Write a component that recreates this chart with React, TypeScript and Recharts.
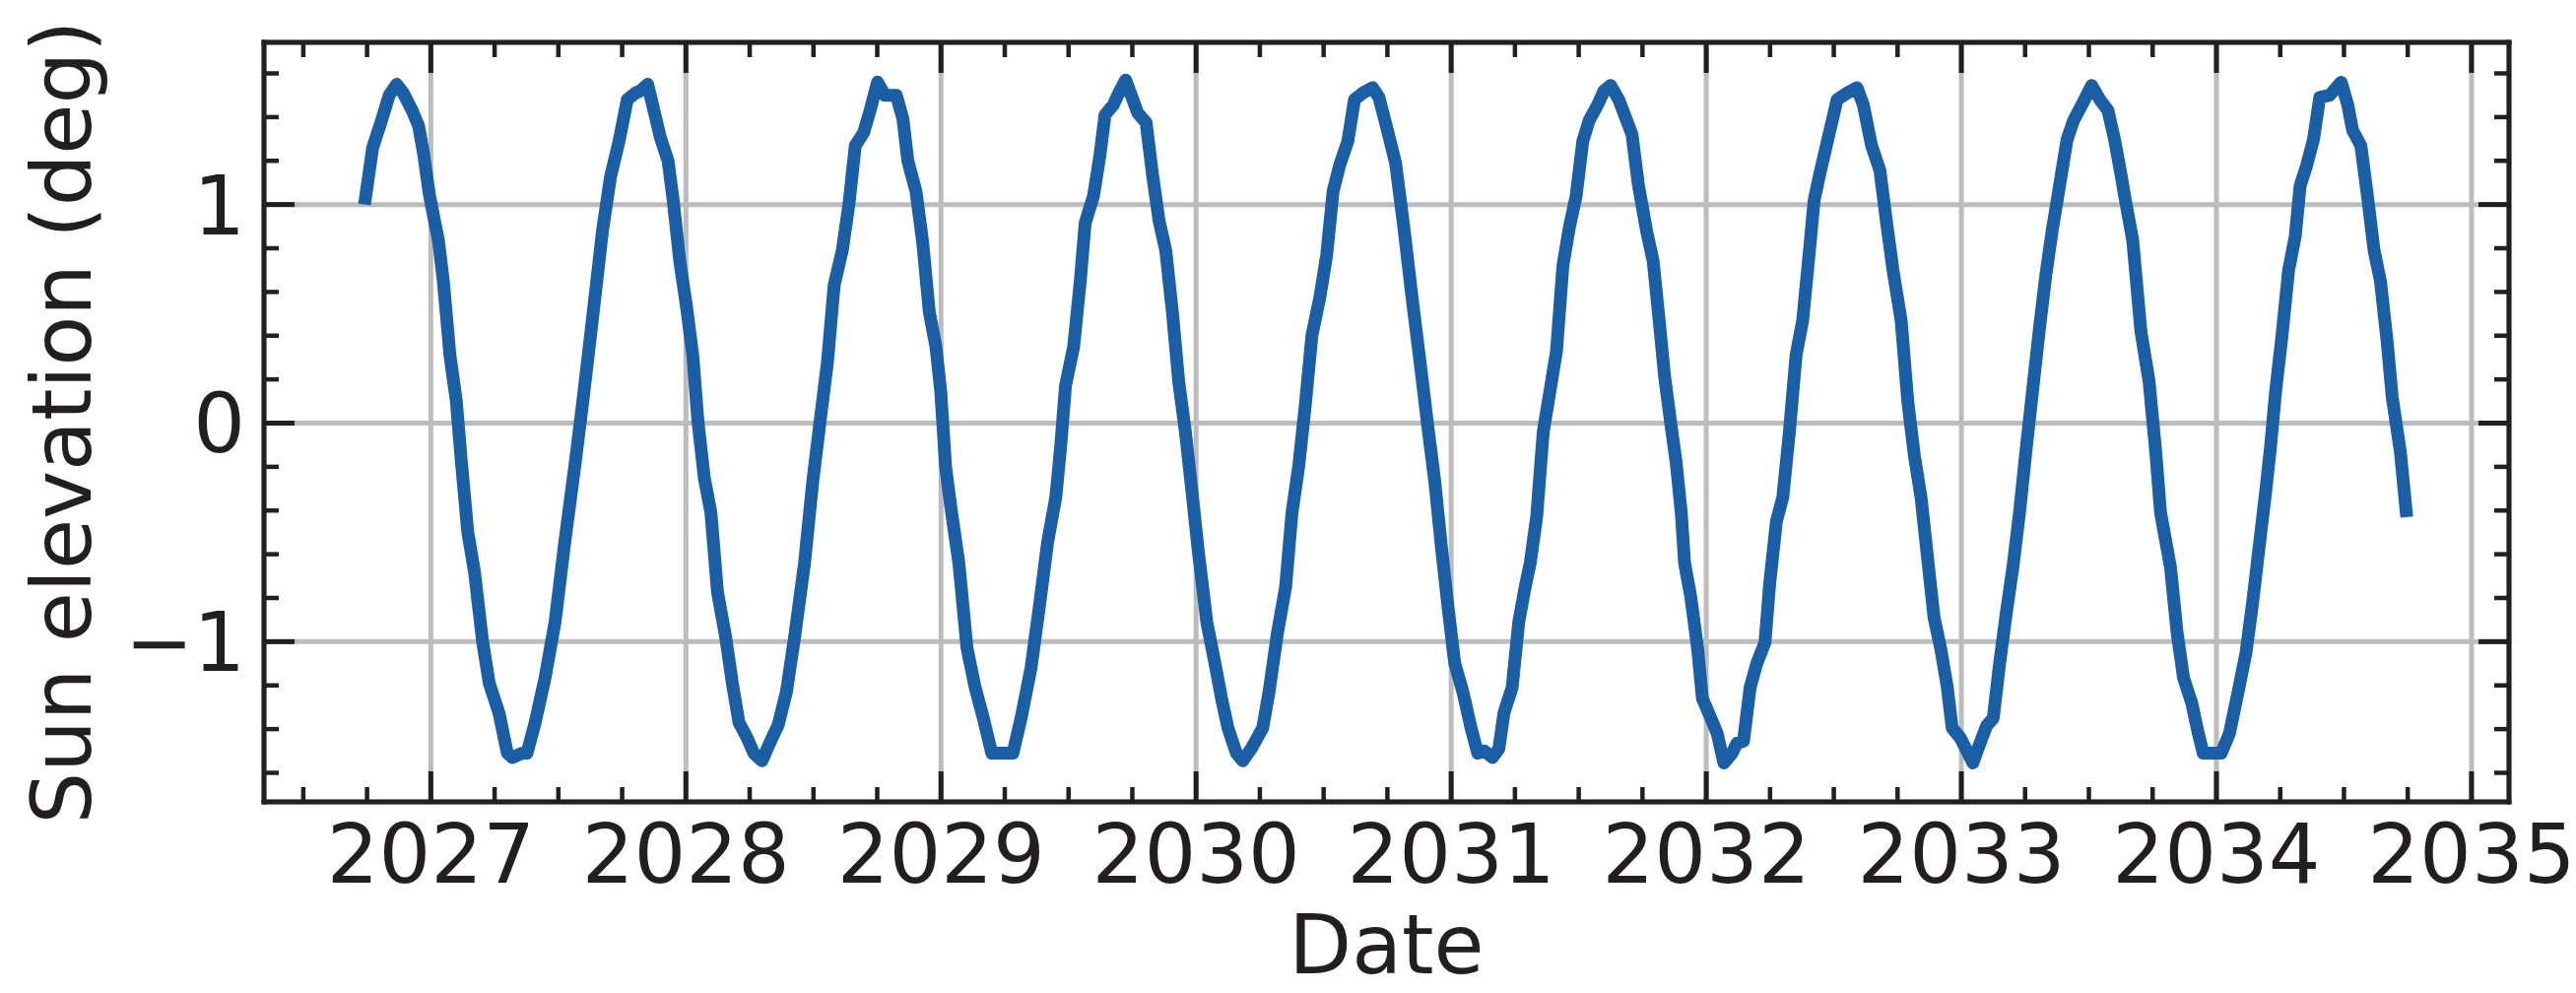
import { LineChart, Line, XAxis, YAxis, CartesianGrid } from "recharts";

// Sun elevation over the mission (decimal years)
const dateYears = [
  2026.74, 2026.772, 2026.804, 2026.837, 2026.866, 2026.892, 2026.927, 2026.952, 2026.972, 2026.995,
  2027.03, 2027.049, 2027.075, 2027.1, 2027.12, 2027.145, 2027.171, 2027.203, 2027.229, 2027.268,
  2027.3, 2027.319, 2027.358, 2027.377, 2027.409, 2027.448, 2027.487, 2027.525, 2027.564, 2027.596,
  2027.635, 2027.673, 2027.705, 2027.738, 2027.77, 2027.802, 2027.821, 2027.85, 2027.879, 2027.899,
  2027.93, 2027.95, 2027.976, 2028.002, 2028.027, 2028.047, 2028.072, 2028.098, 2028.124, 2028.156,
  2028.182, 2028.208, 2028.24, 2028.266, 2028.298, 2028.33, 2028.362, 2028.394, 2028.426, 2028.465,
  2028.497, 2028.523, 2028.555, 2028.581, 2028.613, 2028.639, 2028.664, 2028.697, 2028.722, 2028.751,
  2028.78, 2028.825, 2028.851, 2028.87, 2028.902, 2028.928, 2028.954, 2028.98, 2028.999, 2029.018,
  2029.038, 2029.07, 2029.102, 2029.134, 2029.166, 2029.199, 2029.237, 2029.282, 2029.314, 2029.353,
  2029.385, 2029.418, 2029.45, 2029.469, 2029.488, 2029.52, 2029.546, 2029.565, 2029.598, 2029.623,
  2029.643, 2029.675, 2029.701, 2029.724, 2029.746, 2029.771, 2029.804, 2029.83, 2029.855, 2029.881,
  2029.907, 2029.932, 2029.958, 2029.984, 2030.009, 2030.042, 2030.074, 2030.1, 2030.125, 2030.158,
  2030.183, 2030.216, 2030.261, 2030.286, 2030.319, 2030.351, 2030.376, 2030.402, 2030.428, 2030.454,
  2030.486, 2030.512, 2030.537, 2030.563, 2030.595, 2030.621, 2030.653, 2030.692, 2030.717, 2030.75,
  2030.782, 2030.814, 2030.846, 2030.878, 2030.911, 2030.936, 2030.962, 2030.988, 2031.014, 2031.046,
  2031.078, 2031.104, 2031.13, 2031.162, 2031.187, 2031.207, 2031.239, 2031.265, 2031.29, 2031.31,
  2031.335, 2031.361, 2031.387, 2031.413, 2031.438, 2031.464, 2031.49, 2031.516, 2031.541, 2031.574,
  2031.599, 2031.625, 2031.657, 2031.683, 2031.709, 2031.734, 2031.766, 2031.792, 2031.812, 2031.837,
  2031.863, 2031.882, 2031.902, 2031.915, 2031.94, 2031.966, 2031.985, 2032.018, 2032.043, 2032.069,
  2032.101, 2032.12, 2032.146, 2032.172, 2032.198, 2032.23, 2032.249, 2032.275, 2032.3, 2032.326,
  2032.352, 2032.378, 2032.403, 2032.423, 2032.449, 2032.481, 2032.513, 2032.552, 2032.591, 2032.616,
  2032.648, 2032.681, 2032.706, 2032.732, 2032.764, 2032.79, 2032.816, 2032.842, 2032.867, 2032.893,
  2032.919, 2032.945, 2032.964, 2032.996, 2033.022, 2033.045, 2033.073, 2033.099, 2033.125, 2033.15,
  2033.176, 2033.202, 2033.228, 2033.253, 2033.279, 2033.305, 2033.331, 2033.356, 2033.382, 2033.414,
  2033.44, 2033.472, 2033.511, 2033.543, 2033.575, 2033.601, 2033.627, 2033.64, 2033.672, 2033.704,
  2033.736, 2033.762, 2033.781, 2033.82, 2033.846, 2033.871, 2033.903, 2033.929, 2033.948, 2033.987,
  2034.019, 2034.051, 2034.084, 2034.116, 2034.142, 2034.167, 2034.193, 2034.212, 2034.232, 2034.257,
  2034.283, 2034.309, 2034.328, 2034.354, 2034.38, 2034.405, 2034.444, 2034.489, 2034.515, 2034.534,
  2034.566, 2034.592, 2034.618, 2034.643, 2034.669, 2034.689, 2034.721, 2034.746,
];

const elevationDeg = [
  1.0, 1.26, 1.375, 1.5, 1.55, 1.51, 1.43, 1.36, 1.23, 1.04,
  0.835, 0.65, 0.31, 0.1, -0.18, -0.5, -0.68, -1.0, -1.19, -1.33,
  -1.51, -1.53, -1.51, -1.51, -1.37, -1.165, -0.91, -0.545, -0.2, 0.1,
  0.49, 0.88, 1.13, 1.29, 1.48, 1.51, 1.52, 1.55, 1.41, 1.31,
  1.2, 1.02, 0.74, 0.535, 0.31, 0.01, -0.25, -0.41, -0.775, -0.98,
  -1.19, -1.37, -1.44, -1.51, -1.545, -1.46, -1.38, -1.23, -0.98, -0.64,
  -0.27, -0.02, 0.28, 0.63, 0.79, 1.0, 1.27, 1.33, 1.43, 1.56,
  1.5, 1.5, 1.39, 1.2, 1.06, 0.83, 0.51, 0.35, 0.145, -0.2,
  -0.38, -0.64, -1.03, -1.21, -1.35, -1.51, -1.51, -1.51, -1.35, -1.12,
  -0.845, -0.545, -0.34, -0.11, 0.17, 0.35, 0.65, 0.915, 1.04, 1.225,
  1.41, 1.455, 1.52, 1.57, 1.5, 1.42, 1.375, 1.13, 0.925, 0.79,
  0.51, 0.19, -0.04, -0.315, -0.59, -0.91, -1.1, -1.26, -1.395, -1.51,
  -1.545, -1.49, -1.395, -1.23, -0.96, -0.75, -0.41, -0.2, 0.08, 0.4,
  0.58, 0.77, 1.06, 1.18, 1.29, 1.48, 1.51, 1.535, 1.49, 1.34,
  1.19, 0.9, 0.58, 0.28, -0.04, -0.27, -0.57, -0.845, -1.1, -1.23,
  -1.395, -1.51, -1.5, -1.53, -1.49, -1.325, -1.21, -0.91, -0.75, -0.64,
  -0.43, -0.04, 0.145, 0.33, 0.72, 0.9, 1.04, 1.29, 1.385, 1.455,
  1.52, 1.545, 1.48, 1.4, 1.32, 1.09, 0.88, 0.74, 0.51, 0.21,
  -0.02, -0.18, -0.41, -0.64, -0.8, -1.03, -1.26, -1.35, -1.42, -1.555,
  -1.51, -1.465, -1.455, -1.21, -1.1, -1.005, -0.73, -0.45, -0.34, -0.04,
  0.31, 0.47, 0.77, 1.02, 1.16, 1.32, 1.48, 1.51, 1.535, 1.455,
  1.27, 1.155, 0.925, 0.7, 0.47, 0.1, -0.15, -0.34, -0.61, -0.89,
  -1.03, -1.21, -1.395, -1.44, -1.5, -1.555, -1.465, -1.385, -1.35, -1.1,
  -0.87, -0.66, -0.41, -0.13, 0.145, 0.42, 0.675, 0.88, 1.065, 1.295,
  1.385, 1.455, 1.545, 1.48, 1.43, 1.295, 1.13, 1.04, 0.835, 0.42,
  0.19, -0.13, -0.41, -0.66, -0.96, -1.165, -1.28, -1.42, -1.51, -1.51,
  -1.51, -1.42, -1.235, -1.05, -0.82, -0.57, -0.315, -0.11, 0.145, 0.4,
  0.7, 0.855, 1.085, 1.18, 1.295, 1.49, 1.5, 1.56, 1.455, 1.34,
  1.27, 1.04, 0.79, 0.65, 0.375, 0.12, -0.13, -0.43,
];

const yearTicks = [2027, 2028, 2029, 2030, 2031, 2032, 2033, 2034, 2035];
const quarterTicks = [
  2026.5, 2026.75, 2027.25, 2027.5, 2027.75, 2028.25, 2028.5, 2028.75, 2029.25, 2029.5,
  2029.75, 2030.25, 2030.5, 2030.75, 2031.25, 2031.5, 2031.75, 2032.25, 2032.5, 2032.75,
  2033.25, 2033.5, 2033.75, 2034.25, 2034.5, 2034.75,
];
const elevationTicks = [-1, 0, 1];
const elevationMinorTicks = [
  -1.6, -1.4, -1.2, -0.8, -0.6, -0.4, -0.2, 0.2, 0.4, 0.6, 0.8, 1.2, 1.4, 1.6,
];

const xDomain = [2026.346, 2035.147];
const yDomain = [-1.733, 1.742];

const data = dateYears.map((t, i) => ({ t, elev: elevationDeg[i] }));

const INK = "#231f20";
const FONT = "'DejaVu Sans', sans-serif";
const FONT_SIZE = 83;
const MAJOR = 31;
const MINOR = 16;

const spine = { stroke: INK, strokeWidth: 5, strokeLinecap: "square" as const };

// matplotlib style minus sign
const fmtElev = (v: number) => (v < 0 ? `\u2212${Math.abs(v)}` : String(v));

type Side = "bottom" | "top" | "left" | "right";

// ticks point into the plot, like matplotlib's direction="in"
const inwardTick =
  (side: Side, len: number, withLabel = false) =>
  (props: any) => {
    const { x, y, payload } = props;
    const v = payload.value as number;
    let x2 = x;
    let y2 = y;
    if (side === "bottom") y2 = y - len;
    if (side === "top") y2 = y + len;
    if (side === "left") x2 = x + len;
    if (side === "right") x2 = x - len;
    return (
      <g>
        <line x1={x} y1={y} x2={x2} y2={y2} stroke={INK} strokeWidth={len === MAJOR ? 5 : 4.5} />
        {withLabel && side === "bottom" && (
          <text x={x} y={y + 82} textAnchor="middle" fill={INK} fontSize={FONT_SIZE} fontFamily={FONT}>
            {String(v)}
          </text>
        )}
        {withLabel && side === "left" && (
          <text x={x - 19} y={y + 30} textAnchor="end" fill={INK} fontSize={FONT_SIZE} fontFamily={FONT}>
            {fmtElev(v)}
          </text>
        )}
      </g>
    );
  };

const DateTitle = (props: any) => {
  const vb = props.viewBox ?? { x: 268, y: 814, width: 2279, height: 1 };
  return (
    <text
      x={vb.x + vb.width / 2}
      y={vb.y + 174}
      textAnchor="middle"
      fill={INK}
      fontSize={FONT_SIZE}
      fontFamily={FONT}
    >
      Date
    </text>
  );
};

const ElevTitle = (props: any) => {
  const vb = props.viewBox ?? { x: 267, y: 43, width: 1, height: 771 };
  const cx = vb.x + vb.width - 176;
  const cy = vb.y + vb.height / 2;
  return (
    <text
      x={cx}
      y={cy}
      transform={`rotate(-90, ${cx}, ${cy})`}
      textAnchor="middle"
      fill={INK}
      fontSize={FONT_SIZE}
      fontFamily={FONT}
    >
      Sun elevation (deg)
    </text>
  );
};

const common = {
  type: "number" as const,
  allowDataOverflow: true,
  interval: 0 as const,
  tickSize: 0,
  tickMargin: 0,
  tickLine: false,
};

export default function App() {
  return (
    <div
      style={{
        position: "absolute",
        left: 0,
        top: 0,
        width: 2615,
        height: 1008,
        background: "#fff",
      }}
    >
      <LineChart
        width={2615}
        height={1008}
        data={data}
        margin={{ top: 41, right: 66, bottom: 192, left: 266 }}
      >
        <CartesianGrid xAxisId="x" yAxisId="y" stroke="#bcbcbc" strokeWidth={5} />
        <Line
          xAxisId="x"
          yAxisId="y"
          dataKey="elev"
          type="linear"
          stroke="#1a5ea6"
          strokeWidth={13}
          strokeLinejoin="round"
          dot={false}
          activeDot={false}
          isAnimationActive={false}
        />

        {/* bottom: year labels with major ticks, then quarter ticks */}
        <XAxis
          {...common}
          xAxisId="x"
          dataKey="t"
          domain={xDomain}
          ticks={yearTicks}
          height={1}
          axisLine={spine}
          tick={inwardTick("bottom", MAJOR, true)}
          label={DateTitle}
        />
        <XAxis
          {...common}
          xAxisId="xm"
          dataKey="t"
          domain={xDomain}
          ticks={quarterTicks}
          height={1}
          axisLine={false}
          tick={inwardTick("bottom", MINOR)}
        />
        {/* top spine */}
        <XAxis
          {...common}
          xAxisId="xt"
          orientation="top"
          dataKey="t"
          domain={xDomain}
          ticks={yearTicks}
          height={1}
          axisLine={spine}
          tick={inwardTick("top", MAJOR)}
        />
        <XAxis
          {...common}
          xAxisId="xtm"
          orientation="top"
          dataKey="t"
          domain={xDomain}
          ticks={quarterTicks}
          height={1}
          axisLine={false}
          tick={inwardTick("top", MINOR)}
        />

        {/* left */}
        <YAxis
          {...common}
          yAxisId="y"
          domain={yDomain}
          ticks={elevationTicks}
          width={1}
          axisLine={spine}
          tick={inwardTick("left", MAJOR, true)}
          label={ElevTitle}
        />
        <YAxis
          {...common}
          yAxisId="ym"
          domain={yDomain}
          ticks={elevationMinorTicks}
          width={1}
          axisLine={false}
          tick={inwardTick("left", MINOR)}
        />
        {/* right spine */}
        <YAxis
          {...common}
          yAxisId="yr"
          orientation="right"
          domain={yDomain}
          ticks={elevationTicks}
          width={1}
          axisLine={spine}
          tick={inwardTick("right", MAJOR)}
        />
        <YAxis
          {...common}
          yAxisId="yrm"
          orientation="right"
          domain={yDomain}
          ticks={elevationMinorTicks}
          width={1}
          axisLine={false}
          tick={inwardTick("right", MINOR)}
        />
      </LineChart>
    </div>
  );
}
